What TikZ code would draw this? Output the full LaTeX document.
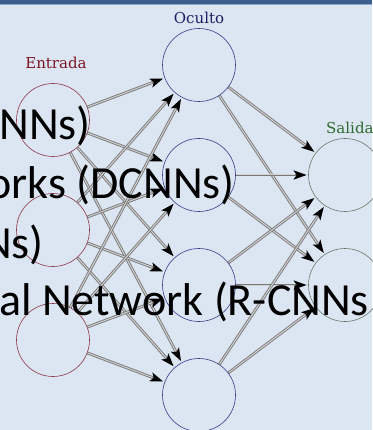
\documentclass[tikz,border=0pt]{standalone}
\usepackage{fontspec}
\usepackage{tikz}
\usetikzlibrary{arrows.meta,positioning}
\newfontfamily\slidefont{Carlito}
\newfontfamily\labelfont{DejaVu Serif}
\definecolor{slidebg}{RGB}{220,230,242}
\definecolor{slidebar}{RGB}{59,95,140}
\definecolor{barline}{RGB}{140,165,200}
\definecolor{inred}{RGB}{140,50,70}
\definecolor{hidblue}{RGB}{55,55,140}
\definecolor{outgreen}{RGB}{100,120,105}
\definecolor{txtred}{RGB}{125,20,35}
\definecolor{txtblue}{RGB}{30,30,100}
\definecolor{txtgreen}{RGB}{45,105,45}
\definecolor{linegray}{RGB}{120,120,120}
\definecolor{linelight}{RGB}{210,210,210}

\begin{document}
\begin{tikzpicture}[x=1pt,y=-1pt,
    neuron/.style={circle,minimum size=73pt,inner sep=0pt,line width=0.6pt},
    link/.style={draw=linegray,line width=2.8pt,shorten >=1.5pt,
                 -{Stealth[length=13pt,width=9pt,inset=3pt,black]},
                 postaction={draw=linelight,line width=1pt,-,shorten >=13pt,shorten <=0.6pt}},
    layername/.style={font=\labelfont\fontsize{15}{17}\selectfont,inner sep=0pt},
    slidetext/.style={font=\slidefont\fontsize{46}{55}\selectfont,inner sep=0pt,text=black}]

    \fill[slidebg] (0,0) rectangle (372,430);
    \useasboundingbox (0,0) rectangle (372,430);
    \fill[slidebar] (0,0) rectangle (372,4);
    \draw[barline,line width=1pt] (0,4.5) -- (372,4.5);

    \node[neuron,draw=inred]    (in1) at (53,120) {};
    \node[neuron,draw=inred]    (in2) at (53,230) {};
    \node[neuron,draw=inred]    (in3) at (53,340) {};

    \node[neuron,draw=hidblue]  (h1) at (199,65)  {};
    \node[neuron,draw=hidblue]  (h2) at (199,175) {};
    \node[neuron,draw=hidblue]  (h3) at (199,285) {};
    \node[neuron,draw=hidblue]  (h4) at (199,395) {};

    \node[neuron,draw=outgreen] (o1) at (345,175) {};
    \node[neuron,draw=outgreen] (o2) at (345,285) {};

    \node[layername,text=txtred]   (entrada) at (56,63)  {Entrada};
    \node[layername,text=txtblue]  (oculto)  at (199,18) {Oculto};
    \node[layername,text=txtgreen,anchor=west] (salida) at (326,128) {Salida};

    \path (in1) edge[link] (h1);
    \path (in1) edge[link] (h2);
    \path (in1) edge[link] (h3);
    \path (in1) edge[link] (h4);
    \path (in2) edge[link] (h1);
    \path (in2) edge[link] (h2);
    \path (in2) edge[link] (h3);
    \path (in2) edge[link] (h4);
    \path (in3) edge[link] (h1);
    \path (in3) edge[link] (h2);
    \path (in3) edge[link] (h3);
    \path (in3) edge[link] (h4);

    \path (h1) edge[link] (o1);
    \path (h1) edge[link] (o2);
    \path (h2) edge[link] (o1);
    \path (h2) edge[link] (o2);
    \path (h3) edge[link] (o1);
    \path (h3) edge[link] (o2);
    \path (h4) edge[link] (o1);
    \path (h4) edge[link] (o2);

    % slide text showing through
    \begin{scope}
    \clip (0,0) rectangle (372,430);
    \node[slidetext,anchor=base east] (line1) at (91,140)  {NNs)};
    \node[slidetext,anchor=base east] (line2) at (235,198) {orks (DCNNs)};
    \node[slidetext,anchor=base east] (line3) at (44,258)  {Ns)};
    \node[slidetext,anchor=base west] (line4) at (-1,315)  {al Network (R-CNNs};
    \end{scope}

\end{tikzpicture}
\end{document}
